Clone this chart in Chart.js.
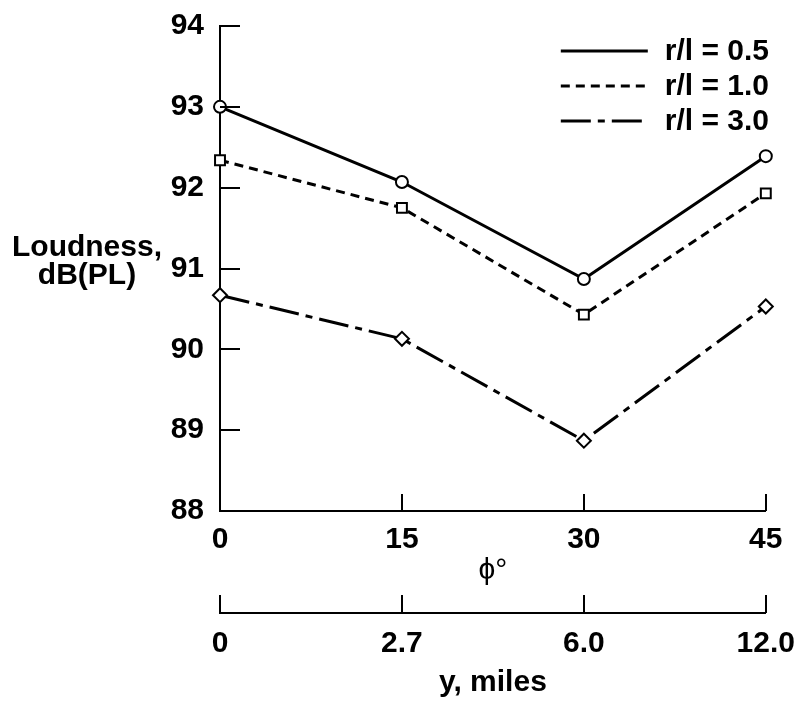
<!DOCTYPE html>
<html>
<head>
<meta charset="utf-8">
<script src="https://cdn.jsdelivr.net/npm/chart.js@4"></script>
<style>
  html, body { margin: 0; padding: 0; background: #fff; }
  #wrap { width: 800px; height: 704px; }
</style>
</head>
<body>
<div id="wrap"><canvas id="loudness" width="800" height="704"></canvas></div>
<script>
// azimuth angle phi (deg) and matching lateral distance labels
const phiTicks   = [0, 15, 30, 45];
const milesTicks = ['0', '2.7', '6.0', '12.0'];

// loudness, dB(PL), one list per r/l ratio
const loud05 = [93.0, 92.07, 90.87, 92.39];
const loud10 = [92.34, 91.75, 90.43, 91.93];
const loud30 = [90.67, 90.13, 88.87, 90.53];

const yTitle = ['Loudness,', 'dB(PL)'];

const FONT = "'Liberation Sans', Arial, Helvetica, sans-serif";
Chart.defaults.font.family = FONT;
Chart.defaults.font.size = 30;
Chart.defaults.font.weight = 'bold';
Chart.defaults.color = '#000';

const pts = ys => phiTicks.map((x, i) => ({ x, y: ys[i] }));

const series = (label, ys, dash, style, radius) => ({
  label, data: pts(ys),
  borderColor: '#000', borderWidth: 3, borderDash: dash, tension: 0,
  pointStyle: style, pointRadius: radius, pointHoverRadius: radius,
  pointBorderColor: '#000', pointBackgroundColor: '#fff', pointBorderWidth: 2,
  clip: false
});

// inward tick marks, horizontal y label and the line-key box
const extras = {
  id: 'extras',
  afterDraw(chart) {
    const { ctx, chartArea: a, scales } = chart;
    ctx.save();
    ctx.strokeStyle = '#000';
    ctx.lineWidth = 2;
    ctx.setLineDash([]);
    ctx.beginPath();
    scales.y.ticks.forEach(t => {
      const py = Math.round(scales.y.getPixelForValue(t.value));
      ctx.moveTo(a.left, py); ctx.lineTo(a.left + 20, py);
    });
    scales.x.ticks.forEach(t => {
      const px = Math.round(scales.x.getPixelForValue(t.value));
      ctx.moveTo(px, a.bottom); ctx.lineTo(px, a.bottom - 17);
    });
    const x2 = scales.x2;
    x2.ticks.forEach(t => {
      const px = Math.round(x2.getPixelForValue(t.value));
      ctx.moveTo(px, x2.top); ctx.lineTo(px, x2.top - 18);
    });
    ctx.stroke();

    ctx.fillStyle = '#000';
    ctx.font = 'bold 30px ' + FONT;
    ctx.textAlign = 'center';
    ctx.textBaseline = 'middle';
    yTitle.forEach((s, i) => ctx.fillText(s, a.left - 133, 248 + i * 28));

    // key
    chart.data.datasets.forEach((ds, i) => {
      const ly = a.top + 25 + i * 35;
      ctx.beginPath();
      ctx.lineWidth = 3;
      ctx.setLineDash(ds.borderDash || []);
      ctx.moveTo(a.right - 205, ly); ctx.lineTo(a.right - 118, ly);
      ctx.stroke();
      ctx.setLineDash([]);
      ctx.textAlign = 'left';
      ctx.fillText(ds.label, a.right - 101, ly + 1);
    });
    ctx.restore();
  }
};

new Chart(document.getElementById('loudness'), {
  type: 'line',
  data: {
    datasets: [
      series('r/l = 0.5', loud05, [], 'circle', 6),
      series('r/l = 1.0', loud10, [9, 6], 'rect', 7),
      series('r/l = 3.0', loud30, [30, 7, 7, 7], 'rectRot', 7)
    ]
  },
  options: {
    responsive: false,
    animation: false,
    events: [],
    layout: { padding: { top: 22, right: 24, bottom: 0, left: 0 } },
    plugins: { legend: { display: false }, tooltip: { enabled: false } },
    scales: {
      x: {
        type: 'linear', position: 'bottom', min: 0, max: 45,
        afterBuildTicks: s => { s.ticks = phiTicks.map(v => ({ value: v })); },
        afterFit: s => { s.height = 102; },
        grid: { display: false },
        border: { display: true, color: '#000', width: 2 },
        ticks: { padding: 3, maxRotation: 0, autoSkip: false },
        title: { display: true, text: 'ϕ°', font: { weight: 'normal' },
          padding: { top: 0, bottom: 24 } }
      },
      x2: {
        type: 'linear', position: 'bottom', weight: 1, min: 0, max: 45,
        afterBuildTicks: s => { s.ticks = phiTicks.map(v => ({ value: v })); },
        afterFit: s => { s.height = 91; },
        grid: { display: false },
        border: { display: true, color: '#000', width: 2 },
        ticks: { padding: 5, maxRotation: 0, autoSkip: false,
          callback: v => milesTicks[phiTicks.indexOf(v)] },
        title: { display: true, text: 'y, miles', padding: { top: 0, bottom: 3 } }
      },
      y: {
        min: 88, max: 94,
        afterFit: s => { s.width = 220; },
        grid: { display: false },
        border: { display: true, color: '#000', width: 2 },
        ticks: { stepSize: 1, padding: 8 }
      }
    }
  },
  plugins: [extras]
});
</script>
</body>
</html>
